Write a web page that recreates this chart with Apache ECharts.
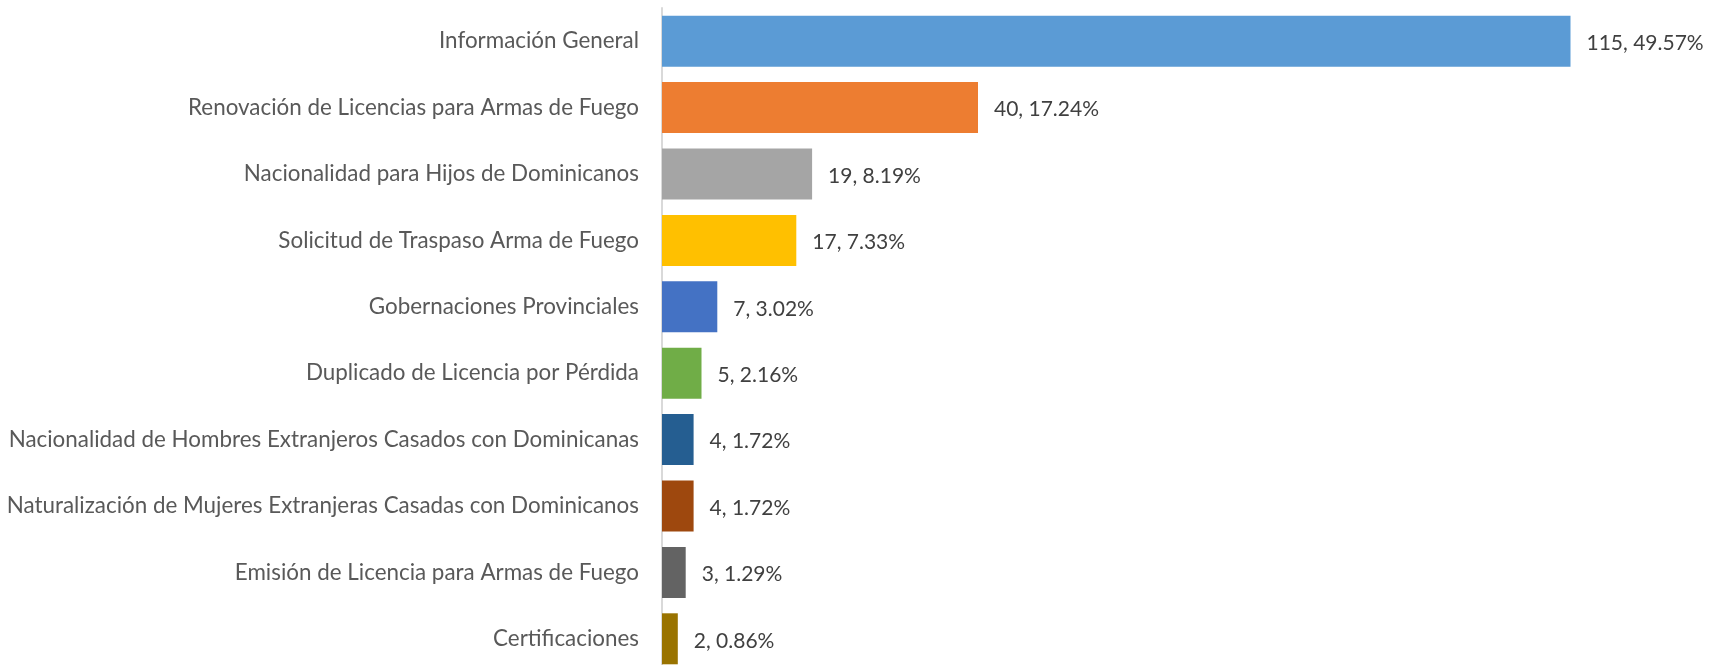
<!DOCTYPE html>
<html>
<head>
<meta charset="utf-8">
<script src="https://cdn.jsdelivr.net/npm/echarts@6/dist/echarts.min.js"></script>
<style>
  html, body { margin: 0; padding: 0; background: #fff; }
  #chart { width: 1709px; height: 665px; }
</style>
</head>
<body>
<div id="chart"></div>
<script>
// categorias (de arriba hacia abajo)
const categories = [
  'Información General',
  'Renovación de Licencias para Armas de Fuego',
  'Nacionalidad para Hijos de Dominicanos',
  'Solicitud de Traspaso Arma de Fuego',
  'Gobernaciones Provinciales',
  'Duplicado de Licencia por Pérdida',
  'Nacionalidad de Hombres Extranjeros Casados con Dominicanas',
  'Naturalización de Mujeres Extranjeras Casadas con Dominicanos',
  'Emisión de Licencia para Armas de Fuego',
  'Certificaciones'
]
const counts = [115, 40, 19, 17, 7, 5, 4, 4, 3, 2]
const percents = ['49.57', '17.24', '8.19', '7.33', '3.02', '2.16', '1.72', '1.72', '1.29', '0.86']

// paleta office
const barColors = ['#5B9BD5', '#ED7D31', '#A5A5A5', '#FFC000', '#4472C4',
  '#70AD47', '#255E91', '#9E480E', '#636363', '#997300']

const chart = echarts.init(document.getElementById('chart'))

const option = {
  animation: false,
  color: barColors,
  grid: {
    left: 662,
    top: 8,
    width: 1027,   // 130 unidades * 7.9px
    height: 664,
    containLabel: false,
    outerBoundsMode: 'none'
  },
  xAxis: {
    type: 'value',
    min: 0,
    max: 130,
    show: false
  },
  yAxis: {
    type: 'category',
    inverse: true,
    data: categories,
    axisLine: { show: true, lineStyle: { color: '#D9D9D9', width: 2 } },
    axisTick: { show: false },
    axisLabel: {
      margin: 23,
      color: '#595959',
      fontFamily: 'Lato',
      fontSize: 22.4
    }
  },
  series: [{
    type: 'bar',
    colorBy: 'data',
    barWidth: 51,
    data: counts,
    label: {
      show: true,
      position: 'right',
      distance: 16,
      color: '#404040',
      fontFamily: 'Lato',
      fontSize: 21,
      offset: [0, 2],
      formatter: p => p.value + ', ' + percents[p.dataIndex] + '%'
    }
  }]
}

chart.setOption(option)
</script>
</body>
</html>
